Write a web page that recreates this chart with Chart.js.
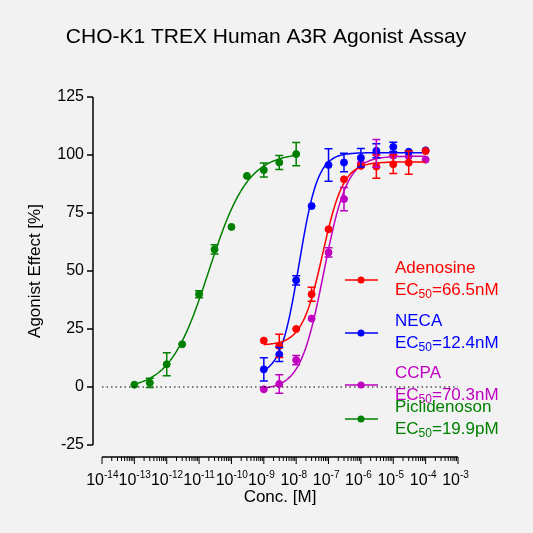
<!DOCTYPE html><html><head><script src="https://cdn.jsdelivr.net/npm/chart.js@4"></script>
<style>html,body{margin:0;background:#f2f2f2}#w{width:533px;height:533px}</style></head><body><div id="w"><canvas id="c"></canvas></div><script>
const concA=[1e-13,3e-13,1e-12,3e-12,1e-11,3e-11,1e-10,3e-10,1e-9,3e-9,1e-8];
const concB=[1e-9,3e-9,1e-8,3e-8,1e-7,3e-7,1e-6,3e-6,1e-5,3e-5,1e-4];
const pic=[1,1.8,9.8,18.4,40,59.3,69,91,93.5,96.8,100.4];
const picErr=[0,2,5,0,1.5,2,0,0,3,3,5];
const aden=[20,17.7,25,40,68,89.5,95.3,95,96,96.7,101.7];
const adenErr=[0,5,0,3,0,0,0,5,4,5,0];
const neca=[7.6,14,46,78,95.7,96.8,98.8,101.8,103.5,101.4,102];
const necaErr=[5,3,2,0,7,4,4,3,2,0,0];
const ccpa=[-1,1.3,11.6,29.5,58,81,96.4,100.7,99.7,99.5,98];
const ccpaErr=[0,4,2,0,2,5,0,6,0,0,0];
// fit params: bottom, top, logEC50, hill
const fitPic=[-1,101,-10.70,0.72], fitAden=[18,97,-7.18,1.35], fitNeca=[5,101,-7.91,1.5], fitCcpa=[-1,99.5,-7.15,1.2];
const xTickExp=[-14,-13,-12,-11,-10,-9,-8,-7,-6,-5,-4,-3];
const yTicks=[-25,0,25,50,75,100,125];
const names=['Adenosine','NECA','CCPA','Piclidenoson'];
const ec50=['66.5nM','12.4nM','70.3nM','19.9pM'];
const cols=['#ff0000','#0000ff','#c000c0','#008000'];
function curve(p,lo,hi){const o=[];for(let l=lo;l<=hi+1e-9;l+=0.05){o.push({x:Math.pow(10,l),y:p[0]+(p[1]-p[0])/(1+Math.pow(10,(p[2]-l)*p[3]))});}return o;}
function pts(c,v){return c.map((x,i)=>({x,y:v[i]}));}
const sets=[[concB,aden,adenErr,fitAden,0],[concB,neca,necaErr,fitNeca,1],[concB,ccpa,ccpaErr,fitCcpa,2],[concA,pic,picErr,fitPic,3]];
const ds=[];
sets.forEach(s=>{const lo=Math.log10(s[0][0]),hi=Math.log10(s[0][s[0].length-1]);
ds.push({type:'line',data:curve(s[3],lo,hi),borderColor:cols[s[4]],borderWidth:1.5,pointRadius:0,fill:false});
ds.push({type:'scatter',data:pts(s[0],s[1]),backgroundColor:cols[s[4]],borderColor:cols[s[4]],pointRadius:3.5,errs:s[2]});});
const F='Arial, Liberation Sans';
const deco={id:'deco',afterDraw(ch){const c=ch.ctx,x=ch.scales.x,y=ch.scales.y,a=ch.chartArea;c.save();
c.fillStyle='#000';c.font='21px '+F;c.textAlign='center';c.textBaseline='middle';c.fillText('CHO-K1 TREX Human A3R Agonist Assay',266,37);
c.strokeStyle='#000';c.lineWidth=1;c.setLineDash([1.5,3]);c.beginPath();c.moveTo(a.left,y.getPixelForValue(0));c.lineTo(a.right,y.getPixelForValue(0));c.stroke();c.setLineDash([]);
ch.data.datasets.forEach(d=>{if(!d.errs)return;c.strokeStyle=d.borderColor;c.lineWidth=1.5;d.data.forEach((p,i)=>{const e=d.errs[i];if(!e)return;const px=x.getPixelForValue(p.x),t=y.getPixelForValue(p.y+e),b=y.getPixelForValue(p.y-e);c.beginPath();c.moveTo(px,t);c.lineTo(px,b);c.moveTo(px-4,t);c.lineTo(px+4,t);c.moveTo(px-4,b);c.lineTo(px+4,b);c.stroke();});});
c.strokeStyle='#000';c.lineWidth=1.5;const ax=93;c.beginPath();c.moveTo(ax,a.top);c.lineTo(ax,a.bottom);c.stroke();
c.font='16px '+F;c.textAlign='right';
yTicks.forEach(v=>{const py=y.getPixelForValue(v);c.beginPath();c.moveTo(ax-6,py);c.lineTo(ax,py);c.stroke();c.fillText(String(v),ax-9,py);});
const ay=457;c.beginPath();c.moveTo(a.left,ay);c.lineTo(a.right,ay);c.stroke();c.lineWidth=1;
xTickExp.forEach((e,k)=>{const px=x.getPixelForValue(Math.pow(10,e));c.beginPath();c.moveTo(px,ay);c.lineTo(px,ay+7);c.stroke();
if(k<xTickExp.length-1)for(let m=2;m<10;m++){const q=x.getPixelForValue(m*Math.pow(10,e));c.beginPath();c.moveTo(q,ay);c.lineTo(q,ay+4);c.stroke();}
c.textAlign='right';c.font='16px '+F;c.fillText('10',px+2,ay+24);c.textAlign='left';c.font='10px '+F;c.fillText(String(e),px+2,ay+18);});
c.textAlign='center';c.font='17px '+F;c.fillText('Conc. [M]',(a.left+a.right)/2,497);
c.save();c.translate(35,(a.top+a.bottom)/2);c.rotate(-Math.PI/2);c.fillText('Agonist Effect [%]',0,0);c.restore();
const ly=[268,321,373,407];c.textAlign='left';
names.forEach((n,i)=>{const yy=ly[i];c.strokeStyle=cols[i];c.fillStyle=cols[i];c.lineWidth=1.5;c.beginPath();c.moveTo(345,yy+12);c.lineTo(378,yy+12);c.stroke();c.beginPath();c.arc(361,yy+12,3.5,0,7);c.fill();
c.font='17px '+F;c.fillText(n,395,yy);c.fillText('EC',395,yy+22);const w=c.measureText('EC').width;c.font='12px '+F;c.fillText('50',395+w,yy+27);const w2=c.measureText('50').width;c.font='17px '+F;c.fillText('='+ec50[i],395+w+w2,yy+22);});
c.restore();}};
new Chart(document.getElementById('c'),{data:{datasets:ds},options:{responsive:true,maintainAspectRatio:false,animation:false,layout:{padding:{left:102,right:75,top:97,bottom:88}},
plugins:{legend:{display:false},tooltip:{enabled:false}},
scales:{x:{type:'logarithmic',min:1e-14,max:1e-3,display:false},y:{min:-25,max:125,display:false}}},plugins:[deco]});
</script></body></html>
